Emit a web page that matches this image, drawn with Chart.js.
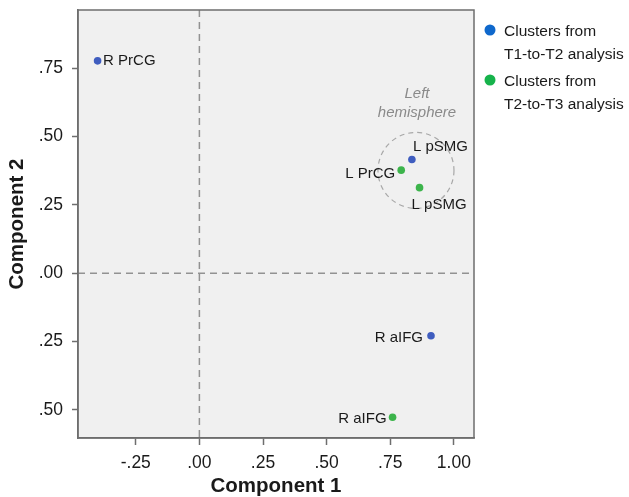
<!DOCTYPE html>
<html>
<head>
<meta charset="utf-8">
<script src="https://cdn.jsdelivr.net/npm/chart.js@4"></script>
<style>
  body { margin: 0; background: #fff; }
  #wrap { width: 629px; height: 497px; position: relative; }
</style>
</head>
<body>
<div id="wrap"><canvas id="pca"></canvas></div>
<script>
// data
var seriesNames = ['Clusters from T1-to-T2 analysis', 'Clusters from T2-to-T3 analysis'];
var legendLines = [['Clusters from', 'T1-to-T2 analysis'], ['Clusters from', 'T2-to-T3 analysis']];

var t1x = [-0.40, 0.835, 0.91];
var t1y = [0.777, 0.416, -0.229];
var t1Labels = ['R PrCG', 'L pSMG', 'R aIFG'];

var t2x = [0.793, 0.865, 0.759];
var t2y = [0.377, 0.313, -0.527];
var t2Labels = ['L PrCG', 'L pSMG', 'R aIFG'];

var xTicks = [-0.25, 0, 0.25, 0.5, 0.75, 1.0];
var xTickLabels = ['-.25', '.00', '.25', '.50', '.75', '1.00'];
var yTicks = [-0.5, -0.25, 0, 0.25, 0.5, 0.75];
var yTickLabels = ['.50', '.25', '.00', '.25', '.50', '.75'];

var groupCentre = [0.851, 0.376];
var groupNote = ['Left', 'hemisphere'];

// styles
var pointColors = ['#3f5dbf', '#3cb44b'];
var legendColors = ['#0f68cc', '#16b34b'];
var labelOffsets = [
    [[5.5, 0, 'left'], [1, -13, 'left'], [-8, 2, 'right']],
    [[-6, 4, 'right'], [-8, 17, 'left'], [-6, 2, 'right']]
];
var FONT = '"Liberation Sans", Arial, sans-serif';

function pts(xs, ys) {
    return xs.map(function (v, i) { return { x: v, y: ys[i] }; });
}

var decor = {
    id: 'decor',
    beforeDraw: function (chart) {
        var c = chart.ctx, a = chart.chartArea;
        c.save();
        c.fillStyle = '#f0f0f0';
        c.fillRect(a.left, a.top, a.right - a.left, a.bottom - a.top);
        c.restore();
    },
    beforeDatasetsDraw: function (chart) {
        var c = chart.ctx, a = chart.chartArea, x = chart.scales.x, y = chart.scales.y;
        var x0 = x.getPixelForValue(0), y0 = y.getPixelForValue(0);
        c.save();
        c.strokeStyle = '#929292';
        c.lineWidth = 1.5;
        c.setLineDash([7, 5]);
        c.beginPath();
        c.moveTo(x0, a.top); c.lineTo(x0, a.bottom);
        c.moveTo(a.left, y0); c.lineTo(a.right, y0);
        c.stroke();
        // left hemisphere group
        var cx = x.getPixelForValue(groupCentre[0]), cy = y.getPixelForValue(groupCentre[1]);
        c.strokeStyle = '#a8a8a8';
        c.lineWidth = 1.2;
        c.setLineDash([5, 4]);
        c.beginPath();
        c.arc(cx, cy, 38, 0, Math.PI * 2);
        c.stroke();
        c.setLineDash([]);
        c.fillStyle = '#8a8a8a';
        c.font = 'italic 15px ' + FONT;
        c.textAlign = 'center';
        c.textBaseline = 'middle';
        c.fillText(groupNote[0], cx + 1, cy - 76.5);
        c.fillText(groupNote[1], cx + 1, cy - 58);
        c.restore();
    },
    afterDatasetsDraw: function (chart) {
        var c = chart.ctx;
        var allLabels = [t1Labels, t2Labels];
        c.save();
        c.fillStyle = '#1a1a1a';
        c.font = '15px ' + FONT;
        c.textBaseline = 'middle';
        chart.data.datasets.forEach(function (ds, di) {
            chart.getDatasetMeta(di).data.forEach(function (el, i) {
                var o = labelOffsets[di][i];
                c.textAlign = o[2];
                c.fillText(allLabels[di][i], el.x + o[0], el.y + o[1]);
            });
        });
        c.restore();
    },
    afterDraw: function (chart) {
        var c = chart.ctx, a = chart.chartArea;
        c.save();
        c.strokeStyle = '#6e6e6e';
        c.lineWidth = 1.5;
        c.strokeRect(a.left, a.top, a.right - a.left, a.bottom - a.top);
        // legend
        c.font = '15.5px ' + FONT;
        c.textAlign = 'left';
        c.textBaseline = 'middle';
        legendLines.forEach(function (lines, i) {
            var top = 30 + i * 50;
            c.fillStyle = legendColors[i];
            c.beginPath();
            c.arc(a.right + 16, top, 5.5, 0, Math.PI * 2);
            c.fill();
            c.fillStyle = '#1a1a1a';
            lines.forEach(function (t, j) {
                c.fillText(t, a.right + 30, top + 2 + j * 23);
            });
        });
        c.restore();
    }
};

var ctx = document.getElementById('pca').getContext('2d');

var pcaChart = new Chart(ctx, {
    type: 'scatter',
    data: {
        datasets: [{
            label: seriesNames[0],
            data: pts(t1x, t1y),
            backgroundColor: pointColors[0],
            borderWidth: 0,
            pointRadius: 3.8
        }, {
            label: seriesNames[1],
            data: pts(t2x, t2y),
            backgroundColor: pointColors[1],
            borderWidth: 0,
            pointRadius: 3.8
        }]
    },
    options: {
        responsive: true,
        maintainAspectRatio: false,
        animation: false,
        layout: { padding: { top: 10, right: 155, left: 0, bottom: 0 } },
        plugins: {
            legend: { display: false },
            tooltip: { enabled: false }
        },
        scales: {
            x: {
                type: 'linear',
                min: -0.477,
                max: 1.079,
                afterBuildTicks: function (s) { s.ticks = xTicks.map(function (v) { return { value: v }; }); },
                afterFit: function (s) { s.height = 59; s.paddingLeft = 0; s.paddingRight = 0; },
                ticks: {
                    callback: function (v, i) { return xTickLabels[i]; },
                    font: { family: FONT, size: 17.5 },
                    color: '#1a1a1a',
                    padding: 8,
                    maxRotation: 0
                },
                grid: { drawOnChartArea: false, drawTicks: true, tickLength: 7, tickColor: '#6e6e6e', tickWidth: 1.5 },
                border: { display: true, color: '#6e6e6e', width: 1.5 },
                title: {
                    display: true,
                    text: 'Component 1',
                    font: { family: FONT, size: 20.5, weight: 'bold' },
                    color: '#1a1a1a',
                    padding: { top: 0, bottom: -1.5 }
                }
            },
            y: {
                type: 'linear',
                min: -0.603,
                max: 0.963,
                afterBuildTicks: function (s) { s.ticks = yTicks.map(function (v) { return { value: v }; }); },
                afterFit: function (s) { s.width = 78; s.paddingTop = 0; s.paddingBottom = 0; },
                ticks: {
                    callback: function (v, i) { return yTickLabels[i]; },
                    font: { family: FONT, size: 17.5 },
                    color: '#1a1a1a',
                    padding: 9
                },
                grid: { drawOnChartArea: false, drawTicks: true, tickLength: 6, tickColor: '#6e6e6e', tickWidth: 1.5 },
                border: { display: true, color: '#6e6e6e', width: 1.5 },
                title: {
                    display: true,
                    text: 'Component 2',
                    font: { family: FONT, size: 20.5, weight: 'bold' },
                    color: '#1a1a1a',
                    padding: { top: 5.5, bottom: 0 }
                }
            }
        }
    },
    plugins: [decor]
});
</script>
</body>
</html>
